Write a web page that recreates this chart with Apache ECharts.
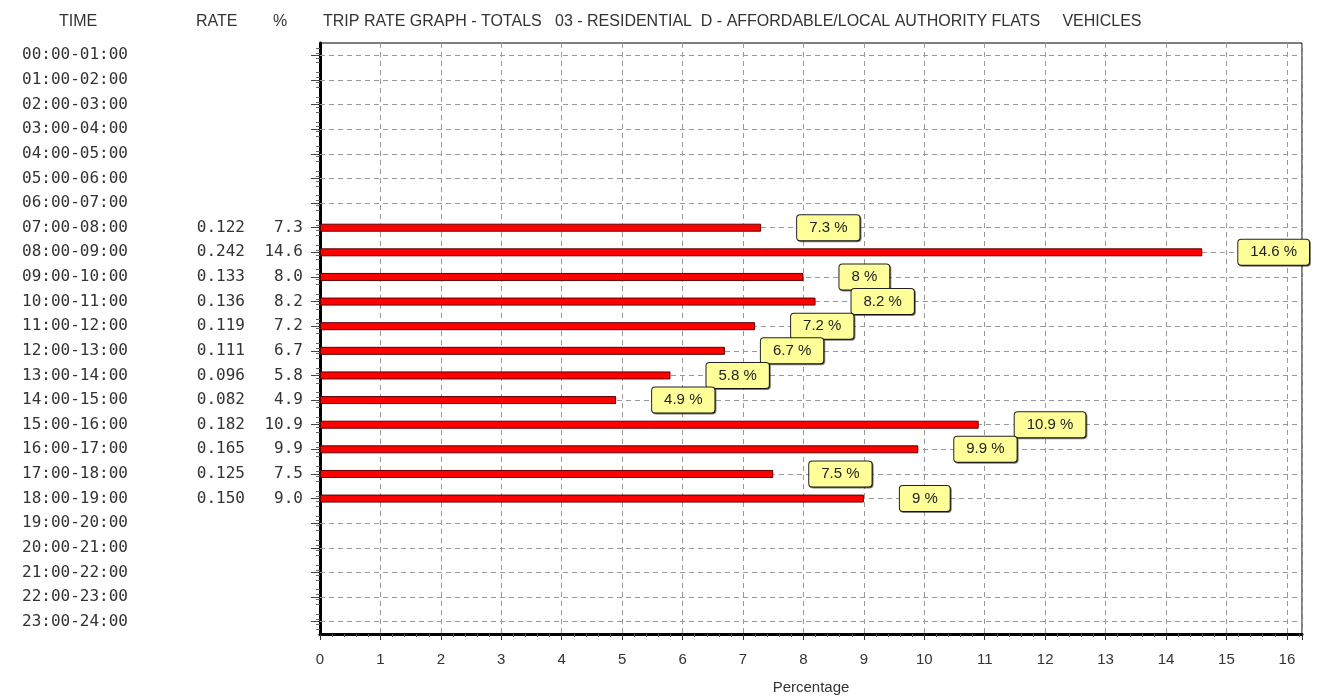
<!DOCTYPE html>
<html>
<head>
<meta charset="utf-8">
<script src="https://cdn.jsdelivr.net/npm/echarts@6/dist/echarts.min.js"></script>
<style>
html,body{margin:0;padding:0;background:#fff;}
#chart{width:1323px;height:700px;}
</style>
</head>
<body>
<div id="chart"></div>
<script>
const times = ['00:00-01:00','01:00-02:00','02:00-03:00','03:00-04:00','04:00-05:00','05:00-06:00','06:00-07:00','07:00-08:00','08:00-09:00','09:00-10:00','10:00-11:00','11:00-12:00','12:00-13:00','13:00-14:00','14:00-15:00','15:00-16:00','16:00-17:00','17:00-18:00','18:00-19:00','19:00-20:00','20:00-21:00','21:00-22:00','22:00-23:00','23:00-24:00'];
const rates = [null,null,null,null,null,null,null,0.122,0.242,0.133,0.136,0.119,0.111,0.096,0.082,0.182,0.165,0.125,0.150,null,null,null,null,null];
const percents = [null,null,null,null,null,null,null,7.3,14.6,8.0,8.2,7.2,6.7,5.8,4.9,10.9,9.9,7.5,9.0,null,null,null,null,null];
const xTicks = [0,1,2,3,4,5,6,7,8,9,10,11,12,13,14,15,16];
const headerTime = 'TIME';
const headerRate = 'RATE';
const headerPct = '%';
const mainTitle = 'TRIP RATE GRAPH - TOTALS   03 - RESIDENTIAL  D - AFFORDABLE/LOCAL AUTHORITY FLATS     VEHICLES';
const xName = 'Percentage';

const sans = '"Liberation Sans", Arial, sans-serif';
const mono = '"DejaVu Sans Mono", "Liberation Mono", monospace';
const chart = echarts.init(document.getElementById('chart'));
const NB = '\u00a0';

chart.setOption({
  backgroundColor: '#ffffff',
  animation: false,
  title: [
    {text: headerTime, left: 54, top: 9, textStyle: {fontSize: 16, fontWeight: 'normal', color: '#333', fontFamily: sans}},
    {text: headerRate, left: 191, top: 9, textStyle: {fontSize: 16, fontWeight: 'normal', color: '#333', fontFamily: sans}},
    {text: headerPct, left: 268, top: 9, textStyle: {fontSize: 16, fontWeight: 'normal', color: '#333', fontFamily: sans}},
    {text: mainTitle, left: 318, top: 9, textStyle: {fontSize: 16, fontWeight: 'normal', color: '#333', fontFamily: sans}}
  ],
  grid: {left: 320, right: 21, top: 43, bottom: 64, show: true, borderColor: '#000', borderWidth: 1, containLabel: false},
  xAxis: {
    type: 'value', min: 0, max: 16.25, interval: 1,
    name: xName, nameLocation: 'middle', nameGap: 46,
    nameTextStyle: {fontSize: 15, color: '#333', fontFamily: sans},
    axisLine: {show: true, onZero: false, lineStyle: {color: '#000', width: 3}},
    axisTick: {show: true, length: 6, lineStyle: {color: '#333'}},
    minorTick: {show: true, splitNumber: 5, length: 3, lineStyle: {color: '#555'}},
    axisLabel: {margin: 18, fontSize: 15, color: '#333', fontFamily: sans,
      formatter: v => (xTicks.indexOf(v) >= 0 ? String(v) : '')},
    splitLine: {show: true, lineStyle: {color: '#999', type: [5, 4], width: 1}},
    minorSplitLine: {show: false}
  },
  yAxis: [
    {
      type: 'category', data: times, inverse: true,
      axisLine: {show: true, lineStyle: {color: '#000', width: 3}},
      axisTick: {show: true, alignWithLabel: true, length: 9, lineStyle: {color: '#444'}},
      splitLine: {show: false},
      axisLabel: {
        margin: 17, align: 'right', fontFamily: mono, fontSize: 16, color: '#333',
        formatter: (val, idx) => {
          const r = rates[idx] != null ? rates[idx].toFixed(3) : NB;
          const p = percents[idx] != null ? percents[idx].toFixed(1) : NB;
          return '{t|' + val + '}{r|' + r + '}{p|' + p + '}';
        },
        rich: {
          t: {width: 150, align: 'center', fontFamily: mono, fontSize: 16, color: '#333'},
          r: {width: 95, align: 'right', fontFamily: mono, fontSize: 16, color: '#333'},
          p: {width: 58, align: 'right', fontFamily: mono, fontSize: 16, color: '#333'}
        }
      }
    },
    {
      type: 'value', min: 0, max: 24, interval: 1, inverse: true, position: 'left',
      axisLine: {show: false}, axisTick: {show: false}, axisLabel: {show: false},
      splitLine: {show: false},
      minorTick: {show: true, splitNumber: 5, length: 4, lineStyle: {color: '#666'}}
    }
  ],
  series: [
    {
      type: 'line', yAxisIndex: 0, data: [], z: 1, silent: true,
      markLine: {
        silent: true, symbol: 'none', z: 1, label: {show: false},
        lineStyle: {color: '#999', type: [5, 4], width: 1},
        data: times.map(t => ({yAxis: t}))
      }
    },
    {
      type: 'bar', yAxisIndex: 0, data: percents, barWidth: 8, z: 3,
      itemStyle: {color: '#ff0000', borderColor: '#5a0000', borderWidth: 1},
      label: {
        show: true, position: 'right', distance: 36,
        formatter: p => String(p.value) + ' %',
        fontSize: 15, fontFamily: sans, color: '#222',
        backgroundColor: '#ffff99', borderColor: '#222', borderWidth: 1, borderRadius: 3,
        padding: [5, 12, 5, 12],
        shadowColor: 'rgba(0,0,0,0.5)', shadowOffsetX: 1, shadowOffsetY: 1, shadowBlur: 0
      }
    }
  ]
});
</script>
</body>
</html>
